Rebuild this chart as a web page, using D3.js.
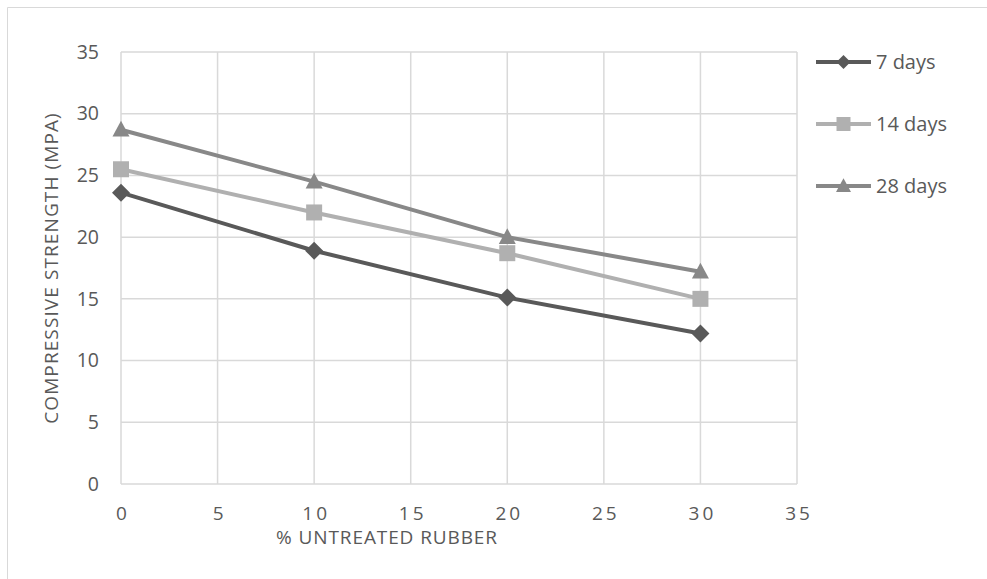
<!DOCTYPE html>
<html>
<head>
<meta charset="utf-8">
<script src="https://cdn.jsdelivr.net/npm/d3@7"></script>
<style>
  html, body { margin: 0; padding: 0; background: #fff; }
  svg { display: block; }
  text { font-family: "Open Sans", "Noto Sans", sans-serif; fill: #595959; }
</style>
</head>
<body>
<svg id="chart" width="987" height="579"></svg>
<script>
// Rubber content (%) on the x axis
const rubberPct = [0, 10, 20, 30];
// Compressive strength (MPa) at each curing age
const days7 = [23.6, 18.9, 15.1, 12.2];
const days14 = [25.5, 22.0, 18.7, 15.0];
const days28 = [28.7, 24.5, 20.0, 17.2];
const seriesNames = ["7 days", "14 days", "28 days"];
const xTicks = [0, 5, 10, 15, 20, 25, 30, 35];
const yTicks = [0, 5, 10, 15, 20, 25, 30, 35];

const series = [
  { name: seriesNames[0], values: days7, color: "#595959", marker: "diamond" },
  { name: seriesNames[1], values: days14, color: "#b0b0b0", marker: "square" },
  { name: seriesNames[2], values: days28, color: "#888888", marker: "triangle" }
];

const svg = d3.select("#chart");
const plot = { left: 121, right: 797, top: 52, bottom: 484 };

const x = d3.scaleLinear().domain([0, 35]).range([plot.left, plot.right]);
const y = d3.scaleLinear().domain([0, 35]).range([plot.bottom, plot.top]);

// outer frame (top and left edges)
svg.append("path")
  .attr("d", "M7.5,579 L7.5,7.5 L987,7.5")
  .attr("fill", "none").attr("stroke", "#d9d9d9").attr("stroke-width", 1);

// gridlines
const grid = svg.append("g");
grid.selectAll("line.h").data(yTicks).join("line")
  .attr("x1", plot.left).attr("x2", plot.right)
  .attr("y1", d => y(d)).attr("y2", d => y(d))
  .attr("stroke", "#d9d9d9").attr("stroke-width", 1.5);
grid.selectAll("line.v").data(xTicks).join("line")
  .attr("y1", plot.top).attr("y2", plot.bottom)
  .attr("x1", d => x(d)).attr("x2", d => x(d))
  .attr("stroke", "#d9d9d9").attr("stroke-width", 1.5);

// axes (labels only; domain and ticks hidden)
const yAxis = svg.append("g").attr("transform", `translate(${plot.left},0)`)
  .call(d3.axisLeft(y).tickValues(yTicks).tickSize(0).tickPadding(22));
yAxis.select(".domain").remove();
yAxis.selectAll("text").attr("font-size", 19.5).attr("fill", "#595959")
  .style("font-family", "'Open Sans', sans-serif");

const xAxis = svg.append("g").attr("transform", `translate(0,${plot.bottom})`)
  .call(d3.axisBottom(x).tickValues(xTicks).tickSize(0).tickPadding(23));
xAxis.select(".domain").remove();
xAxis.selectAll("text").attr("font-size", 19).attr("fill", "#595959")
  .attr("letter-spacing", 3).attr("dx", 1.5)
  .style("font-family", "'Open Sans', sans-serif");

// axis titles
svg.append("text")
  .attr("x", 387).attr("y", 544)
  .attr("text-anchor", "middle").attr("font-size", 19)
  .attr("letter-spacing", 0.9)
  .text("% UNTREATED RUBBER");
svg.append("text")
  .attr("transform", `translate(58,${(plot.top + plot.bottom) / 2}) rotate(-90)`)
  .attr("text-anchor", "middle").attr("font-size", 19)
  .attr("letter-spacing", 1.1)
  .text("COMPRESSIVE STRENGTH (MPA)");

// marker shapes centred on (cx, cy)
function drawMarker(g, type, cx, cy, size, color) {
  const h = size / 2;
  let d;
  if (type === "diamond") d = `M${cx},${cy - h}L${cx + h},${cy}L${cx},${cy + h}L${cx - h},${cy}Z`;
  else if (type === "square") d = `M${cx - h},${cy - h}h${size}v${size}h${-size}Z`;
  else d = `M${cx},${cy - h * 1.05}L${cx + h},${cy + h * 0.8}L${cx - h},${cy + h * 0.8}Z`;
  g.append("path").attr("d", d).attr("fill", color);
}

const line = d3.line().x((d, i) => x(rubberPct[i])).y(d => y(d));

// draw the three series (lines first, then markers)
series.forEach(s => {
  svg.append("path").datum(s.values)
    .attr("d", line)
    .attr("fill", "none").attr("stroke", s.color)
    .attr("stroke-width", 4).attr("stroke-linejoin", "round");
});
series.forEach(s => {
  const g = svg.append("g");
  const size = s.marker === "diamond" ? 18 : (s.marker === "square" ? 16 : 17);
  s.values.forEach((v, i) => drawMarker(g, s.marker, x(rubberPct[i]), y(v), size, s.color));
});

// legend
const legend = svg.append("g");
series.forEach((s, i) => {
  const ly = 62 + i * 62;
  legend.append("line")
    .attr("x1", 816).attr("x2", 871).attr("y1", ly).attr("y2", ly)
    .attr("stroke", s.color).attr("stroke-width", 4);
  const size = s.marker === "diamond" ? 14 : (s.marker === "square" ? 14 : 15);
  drawMarker(legend, s.marker, 843.5, ly, size, s.color);
  legend.append("text")
    .attr("x", 876).attr("y", ly).attr("dy", "0.35em")
    .attr("font-size", 20)
    .text(s.name);
});
</script>
</body>
</html>
